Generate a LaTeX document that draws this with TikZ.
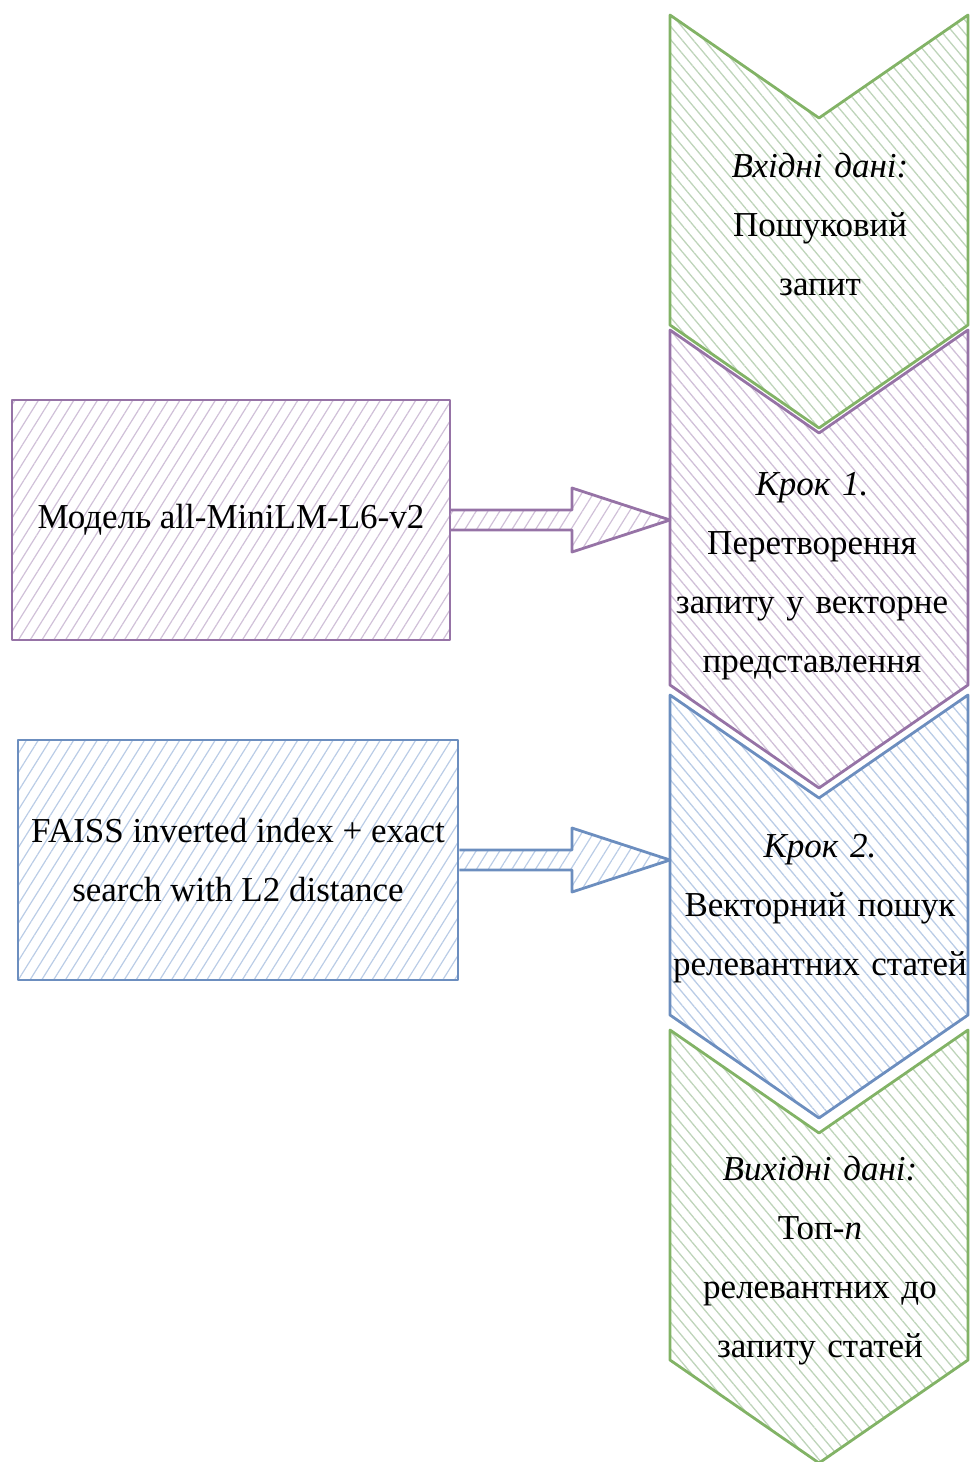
\documentclass[tikz,border=0pt]{standalone}
\usepackage{fontspec}
\setmainfont{Liberation Serif}
\usetikzlibrary{calc,patterns.meta,positioning}
\definecolor{skGreen}{RGB}{130,179,102}
\definecolor{skGreenHatch}{RGB}{190,212,186}
\definecolor{skPurple}{RGB}{150,115,166}
\definecolor{skPurpleHatch}{RGB}{208,192,216}
\definecolor{skBlue}{RGB}{108,142,191}
\definecolor{skBlueHatch}{RGB}{186,204,230}

\begin{document}
\begin{tikzpicture}[x=1pt,y=-1pt,line join=round,
    stagebody/.style={minimum width=298pt, inner sep=0pt, outer sep=0pt},
    stagetext/.style={text width=304pt, align=center, inner sep=0pt, font=\fontsize{35}{59}\selectfont},
    toolbox/.style={draw=#1, line width=2.8pt, inner sep=0pt, align=center, minimum height=240pt, font=\fontsize{35}{59}\selectfont},
    hatchdown/.style={pattern={Lines[angle=-50,distance=8.5pt,line width=1.3pt]}, pattern color=#1},
    hatchup/.style={pattern={Lines[angle=58,distance=10pt,line width=1.2pt]}, pattern color=#1},
    blockline/.style={draw=#1, line width=2.8pt}]
    \useasboundingbox (0,0) rectangle (972,1462);

    % stages on the right
    \node[stagebody, minimum height=310pt] (input) at (819,170) {};
    \node[stagebody, minimum height=355pt] (step1) at (819,507.5) {};
    \node[stagebody, minimum height=320pt] (step2) at (819,855) {};
    \node[stagebody, minimum height=330pt] (output) at (819,1195) {};
    \foreach \s/\edge/\hatch in {input/skGreen/skGreenHatch, step1/skPurple/skPurpleHatch,
        step2/skBlue/skBlueHatch, output/skGreen/skGreenHatch}
        \draw[blockline=\edge, hatchdown=\hatch] (\s.north west) -- ($(\s.north)+(0,103)$)
            -- (\s.north east) -- (\s.south east) -- ($(\s.south)+(0,103)$) -- (\s.south west) -- cycle;

    \node[stagetext] (inputText) at (820,225) {\textit{Вхідні дані:}\\Пошуковий\\запит};
    \node[stagetext] (step1Text) at (812,576) {\textit{Крок 1.}\\Перетворення\\запиту у векторне\\представлення};
    \node[stagetext] (step2Text) at (820,909) {\textit{Крок 2.}\\Векторний пошук\\релевантних статей};
    \node[stagetext] (outputText) at (820,1261) {\textit{Вихідні дані:}\\Топ-\textit{n}\\релевантних до\\запиту статей};

    % tools on the left
    \node[toolbox=skPurple, hatchup=skPurpleHatch, minimum width=438pt] (model) at (231,520)
        {Модель all-MiniLM-L6-v2};
    \node[toolbox=skBlue, hatchup=skBlueHatch, minimum width=440pt] (faiss) at (238,860)
        {FAISS inverted index + exact\\search with L2 distance};

    % block arrows
    \draw[blockline=skPurple, hatchup=skPurpleHatch] ($(model.east)+(0,-10)$)
        -- ($(model.east -| step1.west)+(-98,-10)$) -- ($(model.east -| step1.west)+(-98,-32)$)
        -- (model.east -| step1.west) -- ($(model.east -| step1.west)+(-98,32)$)
        -- ($(model.east -| step1.west)+(-98,10)$) -- ($(model.east)+(0,10)$);
    \draw[blockline=skBlue, hatchup=skBlueHatch] ($(faiss.east)+(0,-10)$)
        -- ($(faiss.east -| step2.west)+(-98,-10)$) -- ($(faiss.east -| step2.west)+(-98,-32)$)
        -- (faiss.east -| step2.west) -- ($(faiss.east -| step2.west)+(-98,32)$)
        -- ($(faiss.east -| step2.west)+(-98,10)$) -- ($(faiss.east)+(0,10)$);
\end{tikzpicture}
\end{document}
